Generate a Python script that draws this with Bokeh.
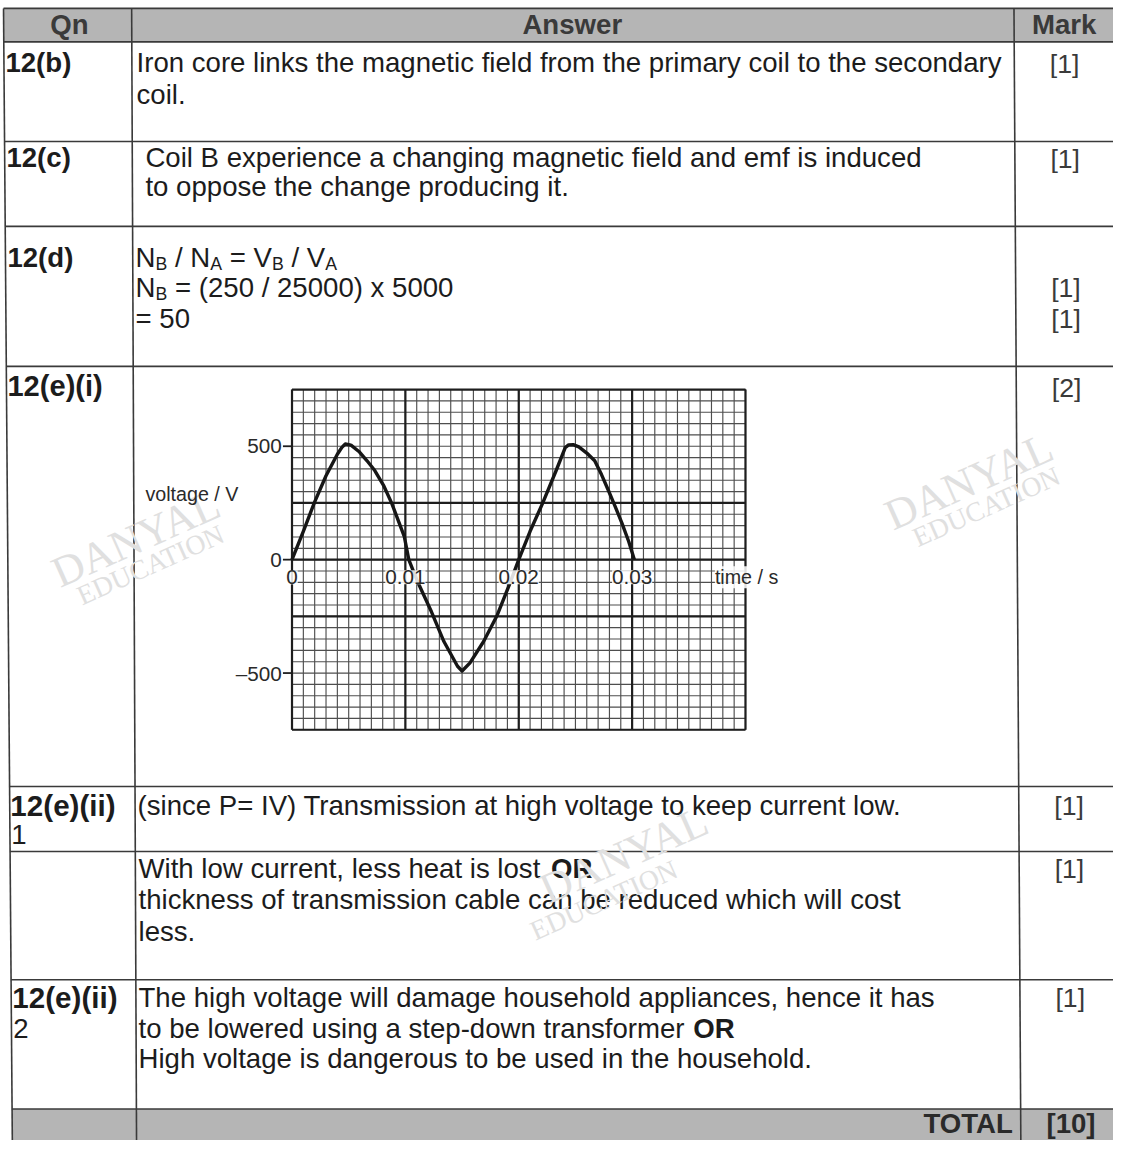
import numpy as np
from collections import OrderedDict
from bokeh.plotting import figure
from bokeh.models import Range1d, ColumnDataSource, LabelSet
from bokeh.core.properties import value
from bokeh.embed import file_html
from bokeh.resources import INLINE

# ---------------- chart data ----------------
time_s = [0.0, 0.001, 0.002, 0.003, 0.004, 0.0044, 0.0047, 0.0052, 0.0059, 0.0066,
          0.0073, 0.0081, 0.0088, 0.0099, 0.0103, 0.0111, 0.0123, 0.0134, 0.0146,
          0.0150, 0.0157, 0.0169, 0.0181, 0.0192, 0.0200, 0.0210, 0.0221, 0.0233,
          0.0241, 0.0244, 0.0248, 0.0253, 0.0260, 0.0267, 0.0273, 0.0279, 0.0285,
          0.0291, 0.0297, 0.0302]
voltage_V = [0, 125, 255, 370, 465, 495, 510, 505, 477, 437,
             393, 325, 248, 103, 0, -100, -230, -361, -470,
             -491, -455, -361, -245, -107, 0, 125, 248, 393,
             494, 506, 507, 497, 470, 436, 375, 306, 235,
             161, 80, 0]
v_tick_values = [500, 0, -500]
v_tick_labels = ["500", "0", "\u2013500"]
t_tick_values = [0.0, 0.01, 0.02, 0.03]
t_tick_labels = ["0", "0.01", "0.02", "0.03"]
y_axis_title = "voltage / V"
x_axis_title = "time / s"

# ---------------- table text ----------------
header_labels = ["Qn", "Answer", "Mark"]
qn_labels = ["12(b)", "12(c)", "12(d)", "12(e)(i)", "12(e)(ii)", "12(e)(ii)"]
qn_suffixes = ["1", "2"]
answer_12b = [[("Iron core links the magnetic field from the primary coil to the secondary", "n")],
              [("coil.", "n")]]
answer_12c = [[("Coil B experience a changing magnetic field and emf is induced", "n")],
              [("to oppose the change producing it.", "n")]]
answer_12d = [[("N", "n"), ("B", "sub"), (" / N", "n"), ("A", "sub"), (" = V", "n"), ("B", "sub"),
               (" / V", "n"), ("A", "sub")],
              [("N", "n"), ("B", "sub"), (" = (250 / 25000) x 5000", "n")],
              [("= 50", "n")]]
answer_12e2_1 = [[("(since P= IV) Transmission at high voltage to keep current low.", "n")]]
answer_12e2_1b = [[("With low current, less heat is lost ", "n"), ("OR", "b")],
                  [("thickness of transmission cable can be reduced which will cost", "n")],
                  [("less.", "n")]]
answer_12e2_2 = [[("The high voltage will damage household appliances, hence it has", "n")],
                 [("to be lowered using a step-down transformer ", "n"), ("OR", "b")],
                 [("High voltage is dangerous to be used in the household.", "n")]]
marks = ["[1]", "[1]", "[1]", "[1]", "[2]", "[1]", "[1]", "[1]"]
total_label = "TOTAL"
total_mark = "[10]"
watermark_words = ["DANYAL", "EDUCATION"]

# ---------------- layout helpers ----------------
W_REF, H_REF = 1129, 1156
PW, PH = 1113, 1140
S = PW / W_REF
SANS = "Liberation Sans"
SERIF = "Liberation Serif"
INK = "#1c1c1c"
BODY = 28
SUB = 18

AW = {' ': 278, '(': 333, ')': 333, ',': 278, '-': 333, '.': 278, '/': 278, '=': 584,
      '[': 278, ']': 278}
for ch in "0123456789":
    AW[ch] = 556
AW.update(dict(zip("ABCDEFGHIJKLMNOPQRSTUVWXYZ",
                   [667, 667, 722, 722, 667, 611, 778, 722, 278, 500, 667, 556, 833, 722, 778,
                    667, 778, 722, 667, 611, 722, 667, 944, 667, 667, 611])))
AW.update(dict(zip("abcdefghijklmnopqrstuvwxyz",
                   [556, 556, 500, 556, 556, 278, 556, 556, 222, 222, 500, 222, 833, 556, 556,
                    556, 556, 333, 500, 278, 556, 500, 722, 500, 500, 500])))


def twidth(s, size):
    return sum(AW.get(c, 556) for c in s) / 1000.0 * size


def fs(px):
    return f"{px * S:.1f}px"


groups = OrderedDict()


def put(x, y, s, size, style="normal", color=INK, align="left", font=SANS, angle=0.0):
    key = (size, style, color, align, font, angle)
    d = groups.setdefault(key, dict(x=[], y=[], text=[]))
    d["x"].append(x)
    d["y"].append(y)
    d["text"].append(s)


def put_lines(x, centers, lines, bold_gap=2):
    for y, runs in zip(centers, lines):
        cx = x
        for s, kind in runs:
            size = SUB if kind == "sub" else BODY
            lead = len(s) - len(s.lstrip(" "))
            cx += twidth(" " * lead, size)
            s = s.lstrip(" ")
            if kind == "sub":
                put(cx, y + 6.5, s, SUB)
            elif kind == "b":
                cx += bold_gap
                put(cx, y, s, BODY, "bold")
            else:
                put(cx, y, s, BODY)
            cx += twidth(s, size)


p = figure(width=PW, height=PH, x_range=Range1d(0, W_REF), y_range=Range1d(H_REF, 0),
           output_backend="svg", toolbar_location=None, min_border=0,
           x_axis_type=None, y_axis_type=None)
p.outline_line_color = None
p.background_fill_color = "white"
p.border_fill_color = "white"

# ---------------- table structure ----------------
row_lines = [8, 42, 143, 229, 371, 797, 863, 993, 1124]
LINE_COL = "#3a3a3a"


def left_border(y):
    return 3 + 9 * y / H_REF


def qn_div(y):
    return 133 + 5 * y / H_REF


def mark_div(y):
    return 1028 + 7 * y / H_REF


# gray header and total rows
band_xs = [[left_border(8), W_REF, W_REF, left_border(42)],
           [left_border(1124), W_REF, W_REF, left_border(H_REF)]]
band_ys = [[8, 8, 42, 42], [1124, 1124, H_REF, H_REF]]
p.patches(xs=band_xs, ys=band_ys, fill_color="#b5b5b5", line_color=None)

p.segment(x0=[left_border(y) for y in row_lines], y0=row_lines, x1=[W_REF] * len(row_lines), y1=row_lines,
          line_color=LINE_COL, line_width=1.6)
p.segment(x0=[left_border(8), qn_div(8), mark_div(8)], y0=[8, 8, 8],
          x1=[left_border(H_REF), qn_div(H_REF), mark_div(H_REF)], y1=[H_REF] * 3,
          line_color=LINE_COL, line_width=1.6)

# header texts
HEAD_COL = "#3a3a3a"
put(70, 24, header_labels[0], BODY, "bold", HEAD_COL, "center")
put(580, 24, header_labels[1], BODY, "bold", HEAD_COL, "center")
put(1079, 24, header_labels[2], BODY, "bold", HEAD_COL, "center")

# question column
qn_pos = [(5, 63, 28), (6, 159, 28), (7, 261, 28), (7, 391, 29.5), (10, 816, 30), (12, 1011, 30)]
for (x, y, sz), lab in zip(qn_pos, qn_labels):
    put(x, y, lab, sz, "bold")
put(11, 846, qn_suffixes[0], BODY)
put(13, 1042, qn_suffixes[1], BODY)

# answers
put_lines(138, [63, 95], answer_12b)
put_lines(147, [159, 189], answer_12c)
put_lines(137, [261, 291, 322], answer_12d)
put_lines(139, [816], answer_12e2_1)
put_lines(140, [880, 912, 944], answer_12e2_1b, bold_gap=3)
put_lines(140, [1011, 1042, 1073], answer_12e2_2, bold_gap=1)

# marks
mark_y = [64, 161, 292, 323, 393, 817, 881, 1012]
for y, m in zip(mark_y, marks):
    put(mark_div(y) + 51, y, m, 27, "normal", "#3a3a3a", "center")
put(mark_div(1139) - 8, 1139, total_label, BODY, "bold", "#2a2a2a", "right")
put(mark_div(1139) + 51, 1139, total_mark, BODY, "bold", "#2a2a2a", "center")

# watermarks (faint)
WM = "#e0e0e0"
for (cx, cy, cx2, cy2) in [(137, 545, 152, 572), (982, 487, 1000, 513), (632, 866, 612, 912)]:
    put(cx, cy, watermark_words[0], 44, "normal", WM, "center", SERIF, 0.42)
    put(cx2, cy2, watermark_words[1], 28, "normal", WM, "center", SERIF, 0.42)

# ---------------- embedded voltage-time graph ----------------
PX_PER_S = 11500.0
T0_X = 295.7
PX_PER_V = 0.23
V0_Y = 567.0
p.extra_x_ranges["t"] = Range1d(-T0_X / PX_PER_S, (W_REF - T0_X) / PX_PER_S)
p.extra_y_ranges["v"] = Range1d((V0_Y - H_REF) / PX_PER_V, V0_Y / PX_PER_V)
gx = dict(x_range_name="t", y_range_name="v")

T_MAX, V_LIM = 0.04, 750
minor_t = np.arange(0, 41) * 0.001
minor_v = np.arange(-15, 16) * 50.0
p.segment(x0=minor_t, y0=-V_LIM, x1=minor_t, y1=V_LIM, line_color="#4e4e4e", line_width=1.15, **gx)
p.segment(x0=0, y0=minor_v, x1=T_MAX, y1=minor_v, line_color="#4e4e4e", line_width=1.15, **gx)
major_t = np.arange(0, 5) * 0.01
major_v = np.array([-750.0, -250.0, 0.0, 250.0, 750.0])
p.segment(x0=major_t, y0=-V_LIM, x1=major_t, y1=V_LIM, line_color="#1e1e1e", line_width=2.2, **gx)
p.segment(x0=0, y0=major_v, x1=T_MAX, y1=major_v, line_color="#1e1e1e", line_width=2.2, **gx)

# tick marks on the voltage axis
p.segment(x0=-0.0008, y0=v_tick_values, x1=0, y1=v_tick_values, line_color="#1e1e1e", line_width=1.8, **gx)

# the curve
p.line(time_s, voltage_V, line_color="#161616", line_width=3.4, line_join="round", **gx)

GRAPH_INK = "#2a2a2a"
v_src = ColumnDataSource(dict(x=[-0.0009] * len(v_tick_values), y=v_tick_values, text=v_tick_labels))
p.add_layout(LabelSet(source=v_src, x="x", y="y", text="text", text_align="right", text_baseline="middle",
                      text_font=value(SANS), text_font_size=fs(21), text_color=GRAPH_INK, **gx))
t_src = ColumnDataSource(dict(x=t_tick_values, y=[-78] * len(t_tick_values), text=t_tick_labels))
p.add_layout(LabelSet(source=t_src, x="x", y="y", text="text", text_align="center", text_baseline="middle",
                      text_font=value(SANS), text_font_size=fs(21), text_color=GRAPH_INK,
                      background_fill_color="white", background_fill_alpha=0.85, **gx))
xt_src = ColumnDataSource(dict(x=[0.0373], y=[-78], text=[x_axis_title]))
p.add_layout(LabelSet(source=xt_src, x="x", y="y", text="text", text_align="left", text_baseline="middle",
                      text_font=value(SANS), text_font_size=fs(20), text_color=GRAPH_INK,
                      background_fill_color="white", background_fill_alpha=0.85, **gx))
yt_src = ColumnDataSource(dict(x=[-0.01293], y=[290], text=[y_axis_title]))
p.add_layout(LabelSet(source=yt_src, x="x", y="y", text="text", text_align="left", text_baseline="middle",
                      text_font=value(SANS), text_font_size=fs(20), text_color=GRAPH_INK, **gx))

# ---------------- draw all table texts ----------------
for (size, style, color, align, font, angle), d in groups.items():
    p.text(x="x", y="y", text="text", source=ColumnDataSource(d), text_font=value(font),
           text_font_size=fs(size), text_font_style=style, text_color=color, text_align=align,
           text_baseline="middle", angle=angle)

open("out.html", "w").write(file_html(p, INLINE, title="12 mark scheme"))
